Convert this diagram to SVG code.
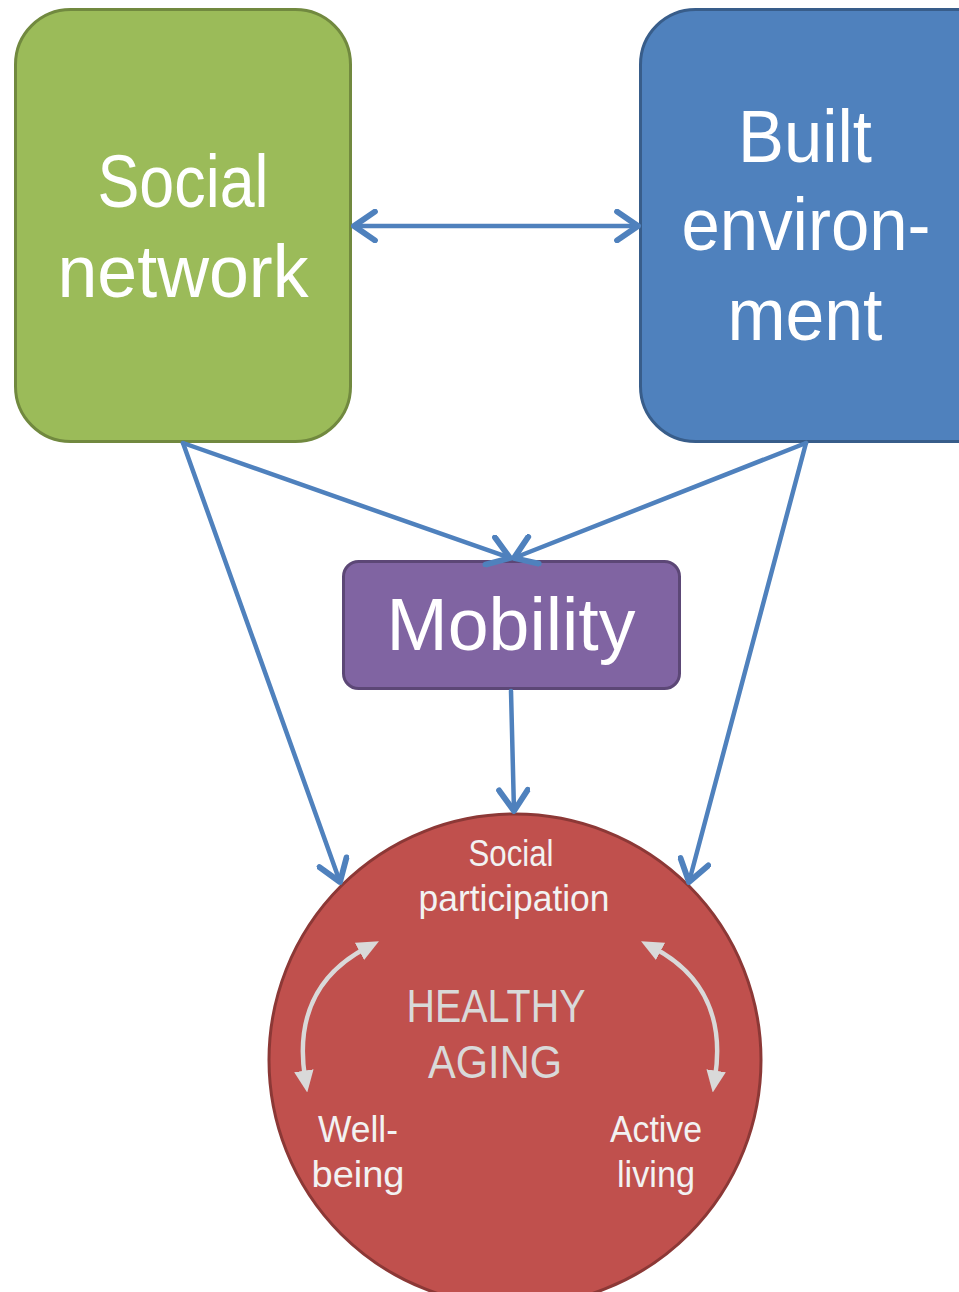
<svg xmlns="http://www.w3.org/2000/svg" width="959" height="1292" viewBox="0 0 959 1292">
<style>
.t{font-family:"Liberation Sans",Arial,sans-serif;text-anchor:middle;}
.big{font-size:75px;fill:#FFFFFF;}
.sm{font-size:37px;fill:#F2F2F2;}
.ha{font-size:47px;fill:#D9D9D9;}
.conn{stroke:#4F81BD;stroke-width:4.5;fill:none;stroke-linecap:round;}
.garc{stroke:#D9D9D9;stroke-width:4.5;fill:none;}
</style>
<defs>
<marker id="open" markerUnits="userSpaceOnUse" markerWidth="34" markerHeight="34" refX="20" refY="13" orient="auto-start-reverse" viewBox="0 0 26 26">
<path d="M4,2 L20,13 L4,24" fill="none" stroke="#4F81BD" stroke-width="4.5" stroke-linecap="round" stroke-linejoin="round"/>
</marker>
<marker id="tri" markerUnits="userSpaceOnUse" markerWidth="22" markerHeight="22" refX="6" refY="8" orient="auto-start-reverse" viewBox="0 0 18 16">
<path d="M0,0 L18,8 L0,16 Z" fill="#D9D9D9"/>
</marker>
</defs>
<g id="social-network">
<rect x="15.5" y="9.5" width="335" height="432" rx="55" ry="55" fill="#9BBB59" stroke="#71893F" stroke-width="3"/>
<text class="t big" x="183" y="207" textLength="171" lengthAdjust="spacingAndGlyphs">Social</text>
<text class="t big" x="183" y="297" textLength="251" lengthAdjust="spacingAndGlyphs">network</text>
</g>
<g id="built-environment">
<rect x="640.5" y="9.5" width="375" height="432" rx="55" ry="55" fill="#4F81BD" stroke="#385D8A" stroke-width="3"/>
<text class="t big" x="805" y="162" textLength="134" lengthAdjust="spacingAndGlyphs">Built</text>
<text class="t big" x="806" y="250" textLength="249" lengthAdjust="spacingAndGlyphs">environ-</text>
<text class="t big" x="805" y="340" textLength="155" lengthAdjust="spacingAndGlyphs">ment</text>
</g>
<g id="mobility">
<rect x="343.5" y="561.5" width="336" height="127" rx="15" ry="15" fill="#8064A2" stroke="#5C4776" stroke-width="3"/>
<text class="t big" x="511" y="650" textLength="249" lengthAdjust="spacingAndGlyphs">Mobility</text>
</g>
<g id="healthy-aging">
<circle cx="515" cy="1060" r="246" fill="#C0504D" stroke="#8C3836" stroke-width="3"/>
<text class="t sm" x="511" y="866" textLength="85" lengthAdjust="spacingAndGlyphs">Social</text>
<text class="t sm" x="514" y="911" textLength="191" lengthAdjust="spacingAndGlyphs">participation</text>
<text class="t ha" x="496" y="1022" textLength="179" lengthAdjust="spacingAndGlyphs">HEALTHY</text>
<text class="t ha" x="495" y="1078" textLength="134" lengthAdjust="spacingAndGlyphs">AGING</text>
<text class="t sm" x="358" y="1142" textLength="80" lengthAdjust="spacingAndGlyphs">Well-</text>
<text class="t sm" x="358" y="1187" textLength="93" lengthAdjust="spacingAndGlyphs">being</text>
<text class="t sm" x="656" y="1142" textLength="92" lengthAdjust="spacingAndGlyphs">Active</text>
<text class="t sm" x="656" y="1187" textLength="78" lengthAdjust="spacingAndGlyphs">living</text>
<path class="garc" d="M305,1078 C296,1020 315,975 366,948" marker-start="url(#tri)" marker-end="url(#tri)"/>
<path class="garc" d="M654,948 C705,975 724,1020 715,1078" marker-start="url(#tri)" marker-end="url(#tri)"/>
</g>
<g id="connectors">
<line class="conn" x1="354" y1="226" x2="638" y2="226" marker-start="url(#open)" marker-end="url(#open)"/>
<line class="conn" x1="183" y1="443" x2="510" y2="558" marker-end="url(#open)"/>
<line class="conn" x1="806" y1="443" x2="514" y2="558" marker-end="url(#open)"/>
<line class="conn" x1="183" y1="443" x2="340" y2="882" marker-end="url(#open)"/>
<line class="conn" x1="806" y1="443" x2="689" y2="882" marker-end="url(#open)"/>
<line class="conn" x1="511" y1="691" x2="514" y2="811" marker-end="url(#open)"/>
</g>
</svg>
